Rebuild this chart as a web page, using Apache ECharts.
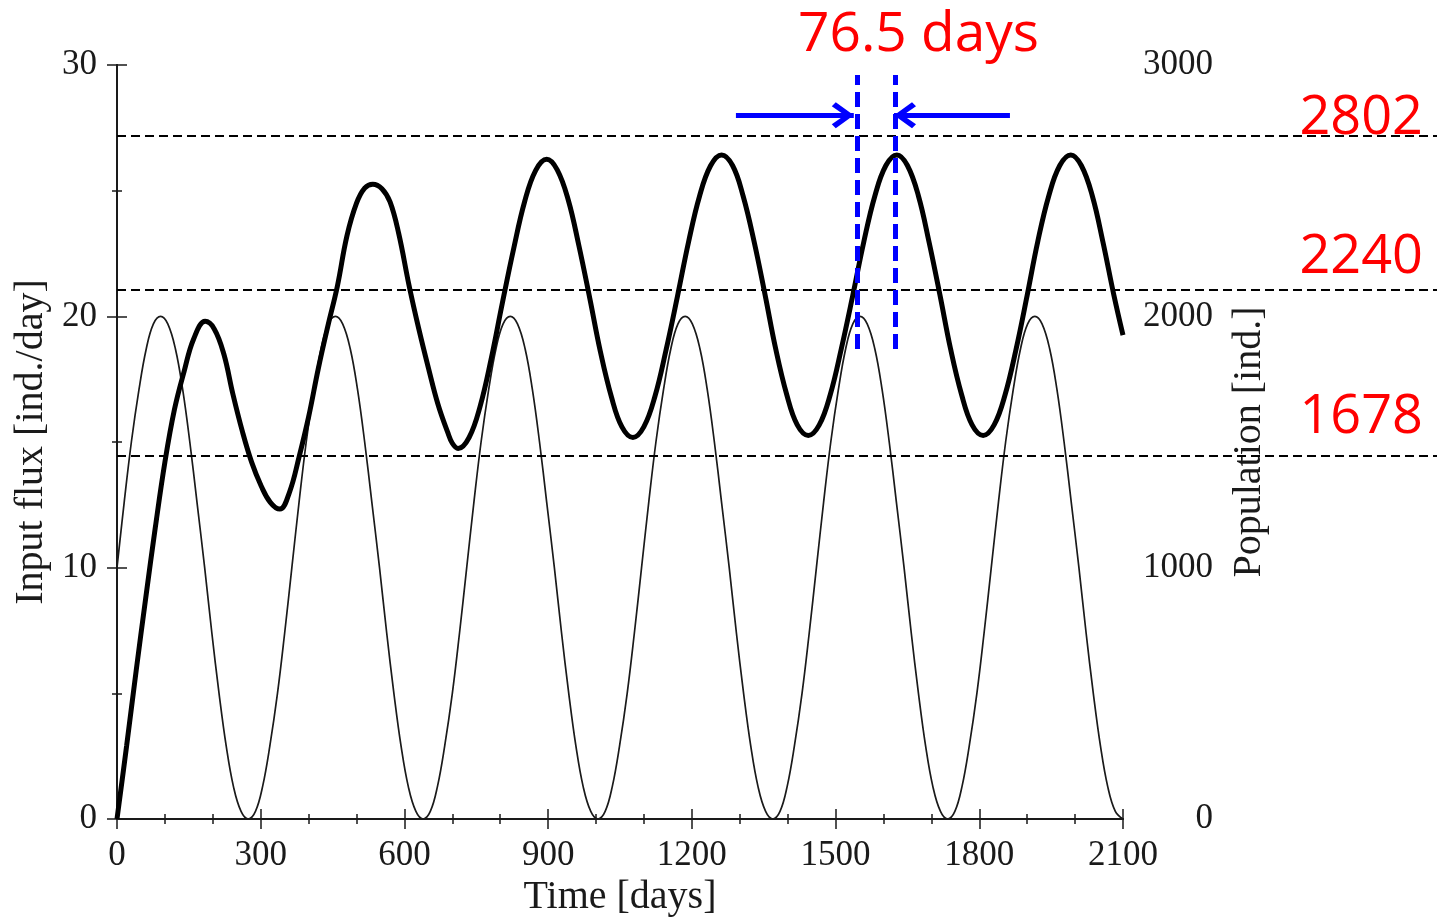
<!DOCTYPE html>
<html>
<head>
<meta charset="utf-8">
<title>Input flux and population</title>
<script src="https://cdn.jsdelivr.net/npm/echarts@6/dist/echarts.min.js"></script>
<style>
  html, body { margin: 0; padding: 0; background: #fff; }
  #chart { width: 1437px; height: 917px; }
</style>
</head>
<body>
<div id="chart"></div>
<script>
// axis ticks
var timeTicks = [0, 300, 600, 900, 1200, 1500, 1800, 2100];
var fluxTicks = [0, 10, 20, 30];
var popTicks = [0, 1000, 2000, 3000];

// input flux [ind./day], thin line
var fluxDays = [
  0, 15, 30, 46, 61, 76, 91, 106, 122, 137, 152, 167, 183, 198, 213, 228, 243, 259, 274, 289, 304, 319, 335, 350,
  365, 380, 395, 411, 426, 441, 456, 471, 487, 502, 517, 532, 548, 563, 578, 593, 608, 624, 639, 654, 669, 684, 700, 715,
  730, 745, 760, 776, 791, 806, 821, 836, 852, 867, 882, 897, 913, 928, 943, 958, 973, 989, 1004, 1019, 1034, 1049, 1065, 1080,
  1095, 1110, 1125, 1141, 1156, 1171, 1186, 1201, 1217, 1232, 1247, 1262, 1278, 1293, 1308, 1323, 1338, 1354, 1369, 1384, 1399, 1414, 1430, 1445,
  1460, 1475, 1490, 1506, 1521, 1536, 1551, 1566, 1582, 1597, 1612, 1627, 1643, 1658, 1673, 1688, 1703, 1719, 1734, 1749, 1764, 1779, 1795, 1810,
  1825, 1840, 1855, 1871, 1886, 1901, 1916, 1931, 1947, 1962, 1977, 1992, 2008, 2023, 2038, 2053, 2068, 2084, 2100
];
var fluxValues = [
  10, 12.6, 15, 17.1, 18.7, 19.7, 20, 19.7, 18.7, 17.1, 15, 12.6, 10, 7.4, 5, 2.9, 1.3, 0.3, 0, 0.3, 1.3, 2.9, 5, 7.4,
  10, 12.6, 15, 17.1, 18.7, 19.7, 20, 19.7, 18.7, 17.1, 15, 12.6, 10, 7.4, 5, 2.9, 1.3, 0.3, 0, 0.3, 1.3, 2.9, 5, 7.4,
  10, 12.6, 15, 17.1, 18.7, 19.7, 20, 19.7, 18.7, 17.1, 15, 12.6, 10, 7.4, 5, 2.9, 1.3, 0.3, 0, 0.3, 1.3, 2.9, 5, 7.4,
  10, 12.6, 15, 17.1, 18.7, 19.7, 20, 19.7, 18.7, 17.1, 15, 12.6, 10, 7.4, 5, 2.9, 1.3, 0.3, 0, 0.3, 1.3, 2.9, 5, 7.4,
  10, 12.6, 15, 17.1, 18.7, 19.7, 20, 19.7, 18.7, 17.1, 15, 12.6, 10, 7.4, 5, 2.9, 1.3, 0.3, 0, 0.3, 1.3, 2.9, 5, 7.4,
  10, 12.6, 15, 17.1, 18.7, 19.7, 20, 19.7, 18.7, 17.1, 15, 12.6, 10, 7.4, 5, 2.9, 1.3, 0.3, 0
];

// population [ind.], thick line
var popDays = [
  0, 20, 40, 60, 80, 100, 120, 140, 160, 184,
  203, 223, 242, 262, 281, 301, 320, 340,
  360, 380, 400, 420, 440, 460, 480, 500, 517, 534,
  553, 570, 588, 610, 630, 650, 670, 690, 700, 712,
  735, 758, 781, 804, 828, 851, 874, 897,
  919, 942, 964, 987, 1009, 1032, 1054, 1077,
  1100, 1123, 1146, 1170, 1193, 1216, 1239, 1262,
  1285, 1307, 1330, 1353, 1375, 1398, 1420, 1443,
  1466, 1489, 1512, 1536, 1559, 1582, 1605, 1628,
  1650, 1673, 1695, 1718, 1740, 1763, 1785, 1808,
  1831, 1854, 1877, 1900, 1922, 1945, 1968, 1991,
  2013, 2036, 2058, 2081, 2100
];
var popValues = [
  0, 290, 590, 880, 1160, 1420, 1630, 1780, 1910, 1980,
  1950, 1850, 1690, 1540, 1420, 1325, 1260, 1233,
  1300, 1440, 1600, 1790, 1960, 2120, 2320, 2450, 2510, 2526,
  2508, 2455, 2330, 2120, 1950, 1795, 1650, 1540, 1495, 1474,
  1518, 1642, 1830, 2049, 2269, 2457, 2581, 2625,
  2583, 2463, 2283, 2071, 1860, 1680, 1560, 1518,
  1561, 1682, 1865, 2080, 2295, 2478, 2599, 2642,
  2600, 2479, 2297, 2084, 1871, 1689, 1568, 1526,
  1568, 1689, 1871, 2084, 2297, 2479, 2600, 2642,
  2600, 2479, 2297, 2084, 1871, 1689, 1568, 1526,
  1568, 1689, 1871, 2084, 2297, 2479, 2600, 2642,
  2600, 2479, 2297, 2084, 1925
];

// dashed reference levels (on the population scale) and their red labels
var refLevels = [2720, 2106, 1446];
var refLabels = ['2802', '2240', '1678'];

// lag annotation (days, on the flux scale)
var lagDays = [1545, 1625];
var lagSpan = [18.7, 29.6];
var arrowLevel = 28.0;
var arrowIn = [[1292, 1538], [1864, 1622]];
var lagText = '76.5 days';

var serif = 'Liberation Serif';
var ink = '#1a1a1a';
var blue = '#0000ff';

function pairs(xs, ys) {
  return xs.map(function (x, i) { return [x, ys[i]]; });
}

function plain(v) {
  return String(v);
}

function frameAxis(extra) {
  var base = {
    axisLine: { show: true, lineStyle: { color: ink, width: 2 } },
    axisTick: { show: true, length: 10, lineStyle: { color: ink, width: 1.5 } },
    splitLine: { show: false },
    minorSplitLine: { show: false },
    nameLocation: 'middle',
    nameTextStyle: { fontFamily: serif, fontSize: 40, color: ink }
  };
  return Object.assign(base, extra);
}

function minor(n) {
  return { show: true, splitNumber: n, length: 5, lineStyle: { color: ink, width: 1.5 } };
}

function labels(margin, align) {
  var l = { fontFamily: serif, fontSize: 35, color: ink, margin: margin, formatter: plain };
  if (align) l.align = align;
  return l;
}

// chevron pointing up, tip in the middle of the box
var chevron = 'path://M12.9,0 L13.1,0 L13,0.2 Z M13,22 L26,40 L22,44 L13,31 L4,44 L0,40 Z';

var chart = echarts.init(document.getElementById('chart'));

chart.setOption({
  animation: false,
  backgroundColor: '#fff',
  title: {
    text: lagText,
    left: 798,
    top: 8,
    padding: 0,
    textStyle: { fontFamily: 'Open Sans', fontSize: 55, fontWeight: 'normal', color: '#ff0000' }
  },
  grid: [
    { left: 117, top: 65, width: 1006, height: 754, containLabel: false, outerBoundsMode: 'none' },
    { left: 117, top: 65, right: 0, height: 754, containLabel: false, outerBoundsMode: 'none' }
  ],
  xAxis: [
    frameAxis({
      type: 'value', gridIndex: 0, position: 'bottom',
      min: timeTicks[0], max: timeTicks[timeTicks.length - 1], interval: timeTicks[1] - timeTicks[0],
      minorTick: minor(3),
      axisLabel: labels(19),
      name: 'Time [days]', nameGap: 56
    }),
    frameAxis({
      type: 'value', gridIndex: 0, position: 'top',
      min: timeTicks[0], max: timeTicks[timeTicks.length - 1], interval: timeTicks[1] - timeTicks[0],
      minorTick: minor(3),
      axisLabel: { show: false }
    }),
    { type: 'value', gridIndex: 1, min: 0, max: 1, show: false }
  ],
  yAxis: [
    frameAxis({
      type: 'value', gridIndex: 0, position: 'left',
      min: fluxTicks[0], max: fluxTicks[fluxTicks.length - 1], interval: fluxTicks[1] - fluxTicks[0],
      minorTick: minor(2),
      axisLabel: labels(20),
      name: 'Input flux [ind./day]', nameRotate: 90, nameGap: 64
    }),
    frameAxis({
      type: 'value', gridIndex: 0, position: 'right',
      min: popTicks[0], max: popTicks[popTicks.length - 1], interval: popTicks[1] - popTicks[0],
      minorTick: minor(2),
      axisLabel: labels(90, 'right'),
      name: 'Population [ind.]', nameRotate: 90, nameGap: 106
    }),
    { type: 'value', gridIndex: 1, min: 0, max: 3000, show: false }
  ],
  series: [
    {
      name: 'Input flux',
      type: 'line',
      xAxisIndex: 0, yAxisIndex: 0,
      data: pairs(fluxDays, fluxValues),
      smooth: 0.4,
      showSymbol: false,
      lineStyle: { color: ink, width: 1.7 },
      z: 3
    },
    {
      name: 'Population',
      type: 'line',
      xAxisIndex: 0, yAxisIndex: 1,
      data: pairs(popDays, popValues),
      smooth: 0.4,
      showSymbol: false,
      lineStyle: { color: '#000', width: 5 },
      z: 4
    },
    {
      // dashed levels run past the right axis to the page edge
      name: 'levels',
      type: 'line',
      xAxisIndex: 2, yAxisIndex: 2,
      data: [],
      markLine: {
        silent: true,
        symbol: 'none',
        animation: false,
        lineStyle: { color: '#000', type: [9, 5], width: 2 },
        label: {
          show: true, position: 'insideEndTop',
          fontFamily: 'Open Sans', fontSize: 54, color: '#ff0000',
          padding: [0, 14, 0, 0]
        },
        data: refLevels.map(function (v, i) {
          return { yAxis: v, label: { formatter: refLabels[i], distance: [[0, -10], [0, 5], [0, 11]][i] } };
        })
      },
      z: 2
    },
    {
      name: 'lag',
      type: 'line',
      xAxisIndex: 0, yAxisIndex: 0,
      data: [],
      markLine: {
        silent: true,
        animation: false,
        symbol: 'none',
        label: { show: false },
        lineStyle: { color: blue, type: [15, 7], width: 5 },
        data: lagDays.map(function (d) {
          return [{ coord: [d, lagSpan[0]] }, { coord: [d, lagSpan[1]] }];
        }).concat(arrowIn.map(function (a) {
          return [
            { coord: [a[0], arrowLevel], symbol: 'none', lineStyle: { type: 'solid', width: 5, color: blue } },
            { coord: [a[1], arrowLevel], symbol: chevron, symbolSize: [26, 44] }
          ];
        }))
      },
      z: 6
    }
  ]
});
</script>
</body>
</html>
